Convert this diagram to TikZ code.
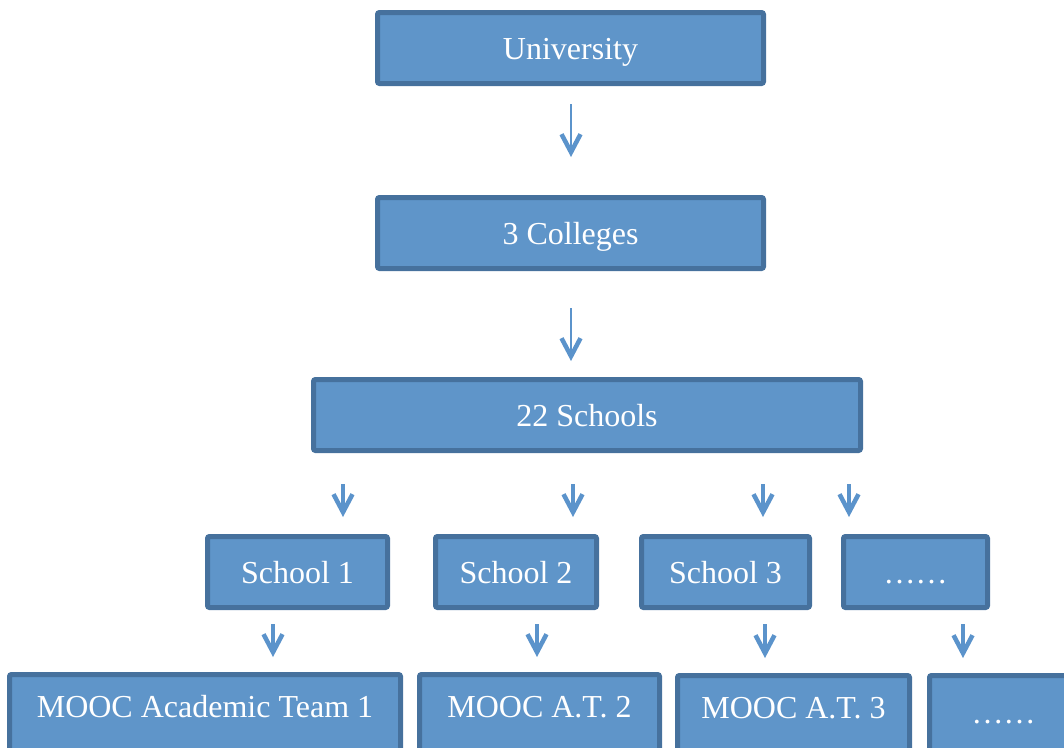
\documentclass[tikz,border=0pt]{standalone}
\usepackage{fontspec}
\setmainfont{Liberation Serif}
\usetikzlibrary{arrows.meta}
\definecolor{boxfill}{HTML}{5F95C9}
\definecolor{boxline}{HTML}{46719D}
\definecolor{arrowblue}{HTML}{5B93CB}
\begin{document}
\begin{tikzpicture}[x=1pt,y=-1pt,
  box/.style={draw=boxline, fill=boxfill, line width=5pt, rounded corners=2pt,
    minimum height=71pt, text=white, font=\fontsize{32}{38}\selectfont,
    text height=22pt, text depth=0pt, inner sep=0pt},
  lowbox/.style={box, anchor=north, minimum height=83pt, text depth=20pt},
  longarrow/.style={draw=arrowblue, line width=2.7pt,
    -{Straight Barb[length=18pt,width=19pt,line width=4.5pt]}},
  shortarrow/.style={draw=arrowblue, line width=3.5pt,
    -{Straight Barb[length=18pt,width=19pt,line width=4.5pt]}}]
\useasboundingbox (0,0) rectangle (1064,747);
\clip (0,0) rectangle (1064,747);

% hierarchy levels
\node[box, minimum width=386pt] (uni) at (570.5,48) {University};
\node[box, minimum width=386pt] (col) at (570.5,233) {3 Colleges};
\node[box, minimum width=547pt] (sch) at (587,415) {22 Schools};

\node[box, minimum width=180pt] (s1) at (297.5,572) {School 1};
\node[box, minimum width=161pt] (s2) at (516,572) {School 2};
\node[box, minimum width=168pt] (s3) at (725.5,572) {School 3};
\node[box, minimum width=144pt] (s4) at (915.5,572) {……};

\node[lowbox, minimum width=391pt] (m1) at (205,672) {MOOC Academic Team 1};
\node[lowbox, minimum width=240pt] (m2) at (539.5,672) {MOOC A.T. 2};
\node[lowbox, minimum width=232pt] (m3) at (793.5,673) {MOOC A.T. 3};
\node[lowbox, minimum width=148pt, text depth=10pt] (m4) at (1003.5,673) {……};

% columns of the short arrows
\coordinate (a1) at (343,0);
\coordinate (a2) at (573,0);
\coordinate (a3) at (763,0);
\coordinate (a4) at (849,0);
\coordinate (b1) at (273,0);
\coordinate (b2) at (537,0);
\coordinate (b3) at (765,0);
\coordinate (b4) at (963,0);
\coordinate (c0) at (571,0);

% connectors
\draw[longarrow, shorten <=18pt, shorten >=38pt] (uni.south -| c0) -- (col.north -| c0);
\draw[longarrow, shorten <=37pt, shorten >=16pt] (col.south -| c0) -- (sch.north -| c0);

\draw[shortarrow, shorten <=31pt, shorten >=17pt] (sch.south -| a1) -- (s1.north -| a1);
\draw[shortarrow, shorten <=31pt, shorten >=17pt] (sch.south -| a2) -- (s2.north -| a2);
\draw[shortarrow, shorten <=31pt, shorten >=17pt] (sch.south -| a3) -- (s3.north -| a3);
\draw[shortarrow, shorten <=31pt, shorten >=17pt] (sch.south -| a4) -- (s4.north -| a4);

\draw[shortarrow, shorten <=14pt, shorten >=15pt] (s1.south -| b1) -- (m1.north -| b1);
\draw[shortarrow, shorten <=14pt, shorten >=15pt] (s2.south -| b2) -- (m2.north -| b2);
\draw[shortarrow, shorten <=14pt, shorten >=15pt] (s3.south -| b3) -- (m3.north -| b3);
\draw[shortarrow, shorten <=14pt, shorten >=15pt] (s4.south -| b4) -- (m4.north -| b4);
\end{tikzpicture}
\end{document}
